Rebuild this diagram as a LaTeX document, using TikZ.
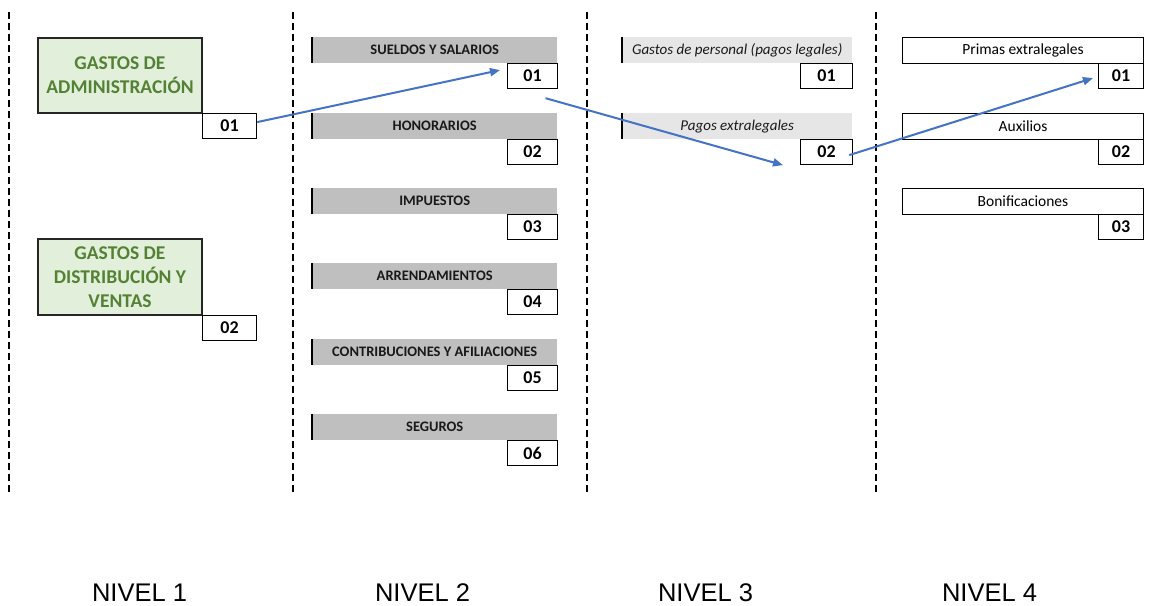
\documentclass[tikz,border=0pt]{standalone}
\usepackage{fontspec}
\setmainfont{Carlito}
\newfontfamily\arialfont{Liberation Sans}
\usetikzlibrary{arrows.meta}
\definecolor{verdecaja}{HTML}{E2EFDA}
\definecolor{verdetexto}{HTML}{548235}
\definecolor{grisbarra}{HTML}{BFBFBF}
\definecolor{grisclaro}{HTML}{E7E6E6}
\definecolor{azulflecha}{HTML}{4472C4}

\begin{document}
\begin{tikzpicture}[x=1pt,y=-1pt,
    guion/.style={line width=2.5pt,dash pattern=on 7pt off 4pt},
    cuenta/.style={draw=black!85,line width=2pt,fill=verdecaja,text=verdetexto,
      font=\fontsize{19.5}{24}\selectfont\bfseries,align=center,anchor=north west,
      minimum width=164pt,minimum height=75pt,inner sep=0pt},
    codigo/.style={draw,line width=1.2pt,fill=white,anchor=north west,
      font=\fontsize{18}{18}\selectfont\bfseries,minimum height=25pt,inner sep=0pt},
    barra/.style={fill=grisbarra,text=black!90,anchor=north west,
      font=\fontsize{14.5}{14.5}\selectfont\bfseries,
      minimum width=245pt,minimum height=26pt,inner sep=0pt},
    subbarra/.style={fill=grisclaro,text=black!90,anchor=north west,
      font=\fontsize{15}{15}\selectfont\itshape,
      minimum width=230pt,minimum height=26pt,inner sep=0pt},
    auxiliar/.style={draw,line width=1pt,fill=white,anchor=north west,
      font=\fontsize{15.5}{15.5}\selectfont,
      minimum width=241pt,minimum height=26pt,inner sep=0pt},
    borde/.style={line width=2.5pt},
    flecha/.style={draw=azulflecha,line width=2pt,-{Triangle[length=10pt,width=8pt]}},
    nivel/.style={font=\arialfont\fontsize{25.5}{25.5}\selectfont,anchor=base}]
  \useasboundingbox (0,0) rectangle (1156,605);
% separadores
  \draw[guion] (9,12)--(9,492);
  \draw[guion] (293,12)--(293,492);
  \draw[guion] (587,12)--(587,492);
  \draw[guion] (876,12)--(876,492);
% nivel 1
  \node[cuenta] (adm) at (37,37) {GASTOS DE\\ADMINISTRACIÓN};
  \node[codigo,minimum width=54pt] (adm01) at (202,113) {01};
  \node[cuenta,minimum height=76pt] (dis) at (37,238) {GASTOS DE\\DISTRIBUCIÓN Y\\VENTAS};
  \node[codigo,minimum width=54pt] (dis02) at (202,315) {02};
% nivel 2
  \node[barra] (sue) at (312,37) {SUELDOS Y SALARIOS};
  \node[codigo,minimum width=50pt] (sue01) at (507,63) {01};
  \node[barra] (hon) at (312,113) {HONORARIOS};
  \node[codigo,minimum width=50pt] (hon02) at (507,139) {02};
  \node[barra] (imp) at (312,188) {IMPUESTOS};
  \node[codigo,minimum width=50pt] (imp03) at (507,214) {03};
  \node[barra] (arr) at (312,263) {ARRENDAMIENTOS};
  \node[codigo,minimum width=50pt] (arr04) at (507,289) {04};
  \node[barra] (con) at (312,339) {CONTRIBUCIONES Y AFILIACIONES};
  \node[codigo,minimum width=50pt] (con05) at (507,365) {05};
  \node[barra] (seg) at (312,414) {SEGUROS};
  \node[codigo,minimum width=50pt] (seg06) at (507,440) {06};
  \draw[borde] (sue.north west)--(sue.south west);
  \draw[borde] (hon.north west)--(hon.south west);
  \draw[borde] (imp.north west)--(imp.south west);
  \draw[borde] (arr.north west)--(arr.south west);
  \draw[borde] (con.north west)--(con.south west);
  \draw[borde] (seg.north west)--(seg.south west);
% nivel 3
  \node[subbarra] (per) at (622,37) {Gastos de personal (pagos legales)};
  \node[codigo,minimum width=52pt] (per01) at (800,63) {01};
  \node[subbarra] (ext) at (622,113) {Pagos extralegales};
  \node[codigo,minimum width=52pt] (ext02) at (800,139) {02};
  \draw[borde] (per.north west)--(per.south west);
  \draw[borde] (ext.north west)--(ext.south west);
% nivel 4
  \node[auxiliar] (pri) at (902,37) {Primas extralegales};
  \node[codigo,minimum width=45pt] (pri01) at (1098,63) {01};
  \node[auxiliar] (aux) at (902,113) {Auxilios};
  \node[codigo,minimum width=45pt] (aux02) at (1098,139) {02};
  \node[auxiliar] (bon) at (902,188) {Bonificaciones};
  \node[codigo,minimum width=45pt] (bon03) at (1098,214) {03};
% ruta
  \draw[flecha] ([shift={(0,-4)}]adm01.east)--([shift={(-7,-6)}]sue01.west);
  \draw[flecha] ([shift={(13,9)}]sue01.south)--([shift={(-17,13)}]ext02.west);
  \draw[flecha] ([shift={(-4,3)}]ext02.east)--([shift={(-5,2)}]pri01.west);
% niveles
  \node[nivel] (n1) at (139.5,601) {NIVEL 1};
  \node[nivel] (n2) at (422.5,601) {NIVEL 2};
  \node[nivel] (n3) at (705.5,601) {NIVEL 3};
  \node[nivel] (n4) at (989.5,601) {NIVEL 4};
\end{tikzpicture}
\end{document}
